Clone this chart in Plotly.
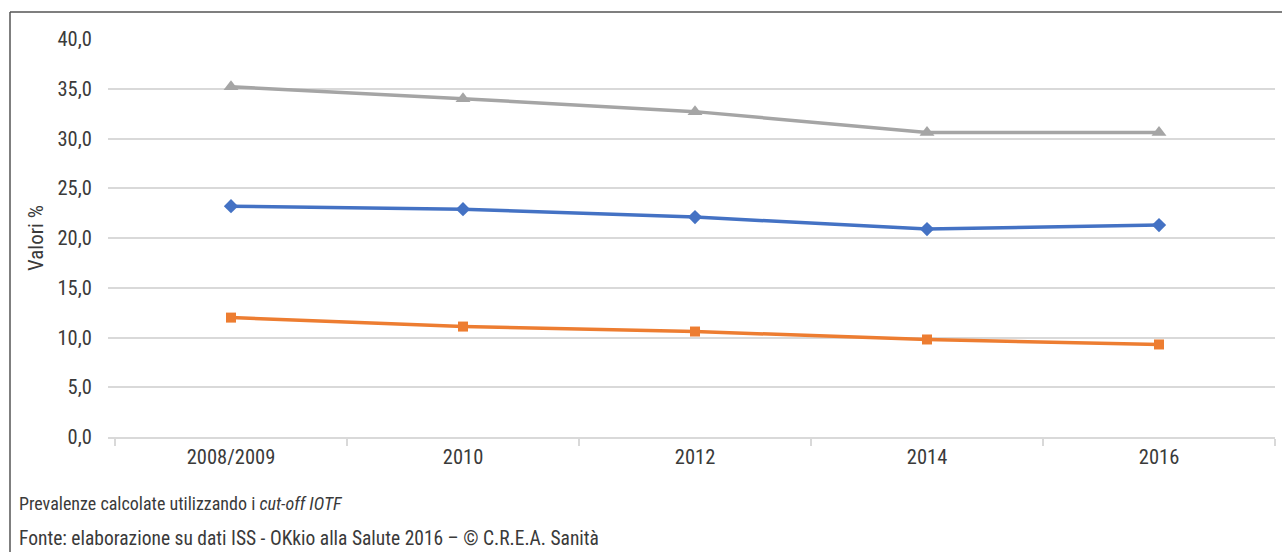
import plotly.graph_objects as go

categories = ["2008/2009", "2010", "2012", "2014", "2016"]
sovrappeso = [23.2, 22.9, 22.1, 20.9, 21.3]
obesita = [12.0, 11.1, 10.6, 9.8, 9.3]
eccesso_ponderale = [35.2, 34.0, 32.7, 30.6, 30.6]
y_ticks = [0, 5, 10, 15, 20, 25, 30, 35, 40]
y_tick_labels = ["0,0", "5,0", "10,0", "15,0", "20,0", "25,0", "30,0", "35,0", "40,0"]

FONT = "Liberation Sans Narrow, Roboto Condensed, Arial Narrow, Liberation Sans, sans-serif"
TXT = "#3a3a3a"

fig = go.Figure()
fig.add_trace(go.Scatter(x=categories, y=sovrappeso, mode="lines+markers", name="Sovrappeso",
                         line=dict(color="#4472C4", width=3.5),
                         marker=dict(symbol="diamond", size=11, color="#4472C4")))
fig.add_trace(go.Scatter(x=categories, y=obesita, mode="lines+markers", name="Obesità",
                         line=dict(color="#ED7D31", width=3.5),
                         marker=dict(symbol="square", size=10, color="#ED7D31")))
fig.add_trace(go.Scatter(x=categories, y=eccesso_ponderale, mode="lines+markers", name="Eccesso ponderale",
                         line=dict(color="#A5A5A5", width=3.5),
                         marker=dict(symbol="triangle-up", size=13, color="#A5A5A5")))

L, R, T, B = 108, 7, 39, 115
W, H = 1282, 552
pw, ph = W - L - R, H - T - B

def px(x):
    return (x - L) / pw

def py(y):
    return 1 - (y - T) / ph

fig.update_layout(
    width=W, height=H,
    margin=dict(l=L, r=R, t=T, b=B),
    paper_bgcolor="white", plot_bgcolor="white",
    showlegend=False,
    font=dict(family=FONT, size=20, color=TXT),
    xaxis=dict(type="category", tickson="boundaries", ticks="outside", ticklen=7,
               tickcolor="#d9d9d9", tickwidth=2, showgrid=False, showline=True,
               linecolor="#d9d9d9", linewidth=2, range=[-0.5 - 7 / 232, 4.5],
               tickfont=dict(family=FONT, size=20.5, color=TXT)),
    yaxis=dict(range=[0, 40], tickvals=y_ticks, ticktext=y_tick_labels,
               showgrid=True, gridcolor="#d9d9d9", gridwidth=2, zeroline=False,
               showline=False, ticks="outside", ticklen=11, tickcolor="rgba(0,0,0,0)",
               tickfont=dict(family=FONT, size=20.5, color=TXT),
               title=dict(text="Valori %", standoff=8,
                          font=dict(family=FONT, size=21, color=TXT))),
    shapes=[
        dict(type="line", xref="paper", yref="paper", x0=px(10), x1=px(1282), y0=py(12), y1=py(12),
             line=dict(color="#555555", width=1.5)),
        dict(type="line", xref="paper", yref="paper", x0=px(10), x1=px(10), y0=py(12), y1=py(552),
             line=dict(color="#555555", width=1.5)),
    ],
    annotations=[
        dict(text="Prevalenze calcolate utilizzando i <i>cut-off IOTF</i>", xref="paper", yref="paper",
             x=px(17), y=py(503), xanchor="left", yanchor="middle", showarrow=False,
             font=dict(family=FONT, size=18, color=TXT)),
        dict(text="Fonte: elaborazione su dati ISS - OKkio alla Salute 2016 – © C.R.E.A. Sanità", xref="paper", yref="paper",
             x=px(17), y=py(538), xanchor="left", yanchor="middle", showarrow=False,
             font=dict(family=FONT, size=19.5, color=TXT)),
    ],
)

fig.write_html("out.html", config={"displayModeBar": False},
               post_script="document.body.style.margin='0px';document.body.style.overflow='hidden';")
